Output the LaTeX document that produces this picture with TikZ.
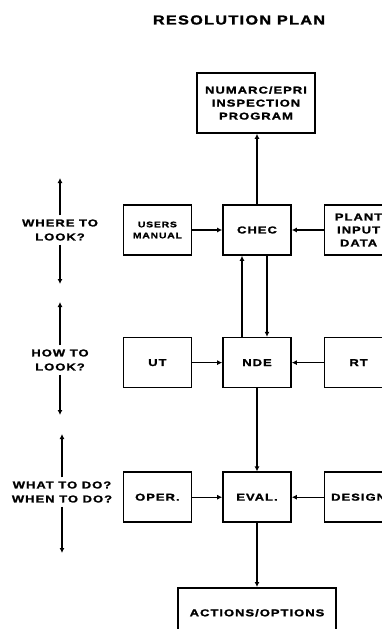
\documentclass[tikz,border=0pt]{standalone}
\usepackage{fontspec}
\newfontfamily\platefont[FakeStretch=1.3,LetterSpace=10,BoldFeatures={FakeBold=1.5}]{Liberation Sans}
\newfontfamily\titlefont[FakeStretch=1.25,LetterSpace=10,BoldFeatures={FakeBold=1.8}]{Liberation Sans}
\usetikzlibrary{arrows.meta,positioning}

\begin{document}
\begin{tikzpicture}[
  x=1pt, y=-1pt,
  node distance=81pt and 30pt,
  block/.style={rectangle, draw=black, line width=1.6pt, align=center,
                minimum width=68pt, minimum height=50pt, inner sep=1pt,
                font=\platefont\bfseries\fontsize{10}{13}\selectfont},
  side/.style={align=center, inner sep=4pt,
               font=\platefont\bfseries\fontsize{10}{14}\selectfont},
  arr/.style={-{Latex[length=5pt,width=5pt]}, line width=1.3pt}
]
\useasboundingbox (0,0) rectangle (382,629);
\clip (0,0) rectangle (382,629);

\node[font=\titlefont\bfseries\fontsize{13}{15}\selectfont] (title) at (239,20) {RESOLUTION PLAN};

% centre column
\node[block, minimum width=118pt, minimum height=60pt] (numarc) at (256,103) {NUMARC/EPRI\\INSPECTION\\PROGRAM};
\node[block] (chec) at (257,230) {CHEC};
\node[block, below=of chec] (nde) {NDE};
\node[block, below=83pt of nde] (eval) {EVAL.};
\node[block, minimum width=158pt, minimum height=50pt, below=64pt of eval] (actions) {ACTIONS/OPTIONS};

% side inputs
\node[block, left=of chec, font=\platefont\bfseries\fontsize{8}{11}\selectfont] (users) {USERS\\MANUAL};
\node[block, right=32pt of chec] (plant) {PLANT\\INPUT\\DATA};
\node[block, left=of nde] (ut) {UT};
\node[block, right=32pt of nde] (rt) {RT};
\node[block, left=of eval] (oper) {OPER.};
\node[block, right=32pt of eval] (design) {DESIGN};

% left margin
\node[side] (where) at (60,230) {WHERE TO\\LOOK?};
\node[side] (how) at (60,360) {HOW TO\\LOOK?};
\node[side] (what) at (62,492) {WHAT TO DO?\\WHEN TO DO?};
\coordinate (whereup) at (60,178);
\coordinate (wheredn) at (60,284);
\coordinate (howup) at (60,302);
\coordinate (howdn) at (60,415);
\coordinate (whatup) at (62,434);
\coordinate (whatdn) at (62,553);

\draw[arr] (where) -- (whereup);
\draw[arr] (where) -- (wheredn);
\draw[arr] (how) -- (howup);
\draw[arr] (how) -- (howdn);
\draw[arr] (what) -- (whatup);
\draw[arr] (what) -- (whatdn);

\draw[arr] (chec.north) -- (chec.north |- numarc.south);
\draw[arr] (users) -- (chec);
\draw[arr] (plant) -- (chec);
\draw[arr] ([xshift=-15pt]nde.north) -- ([xshift=-15pt]chec.south);
\draw[arr] ([xshift=10pt]chec.south) -- ([xshift=10pt]nde.north);
\draw[arr] (ut) -- (nde);
\draw[arr] (rt) -- (nde);
\draw[arr] (nde) -- (eval);
\draw[arr] (oper) -- (eval);
\draw[arr] (design) -- (eval);
\draw[arr] (eval.south) -- (eval.south |- actions.north);
\end{tikzpicture}
\end{document}
